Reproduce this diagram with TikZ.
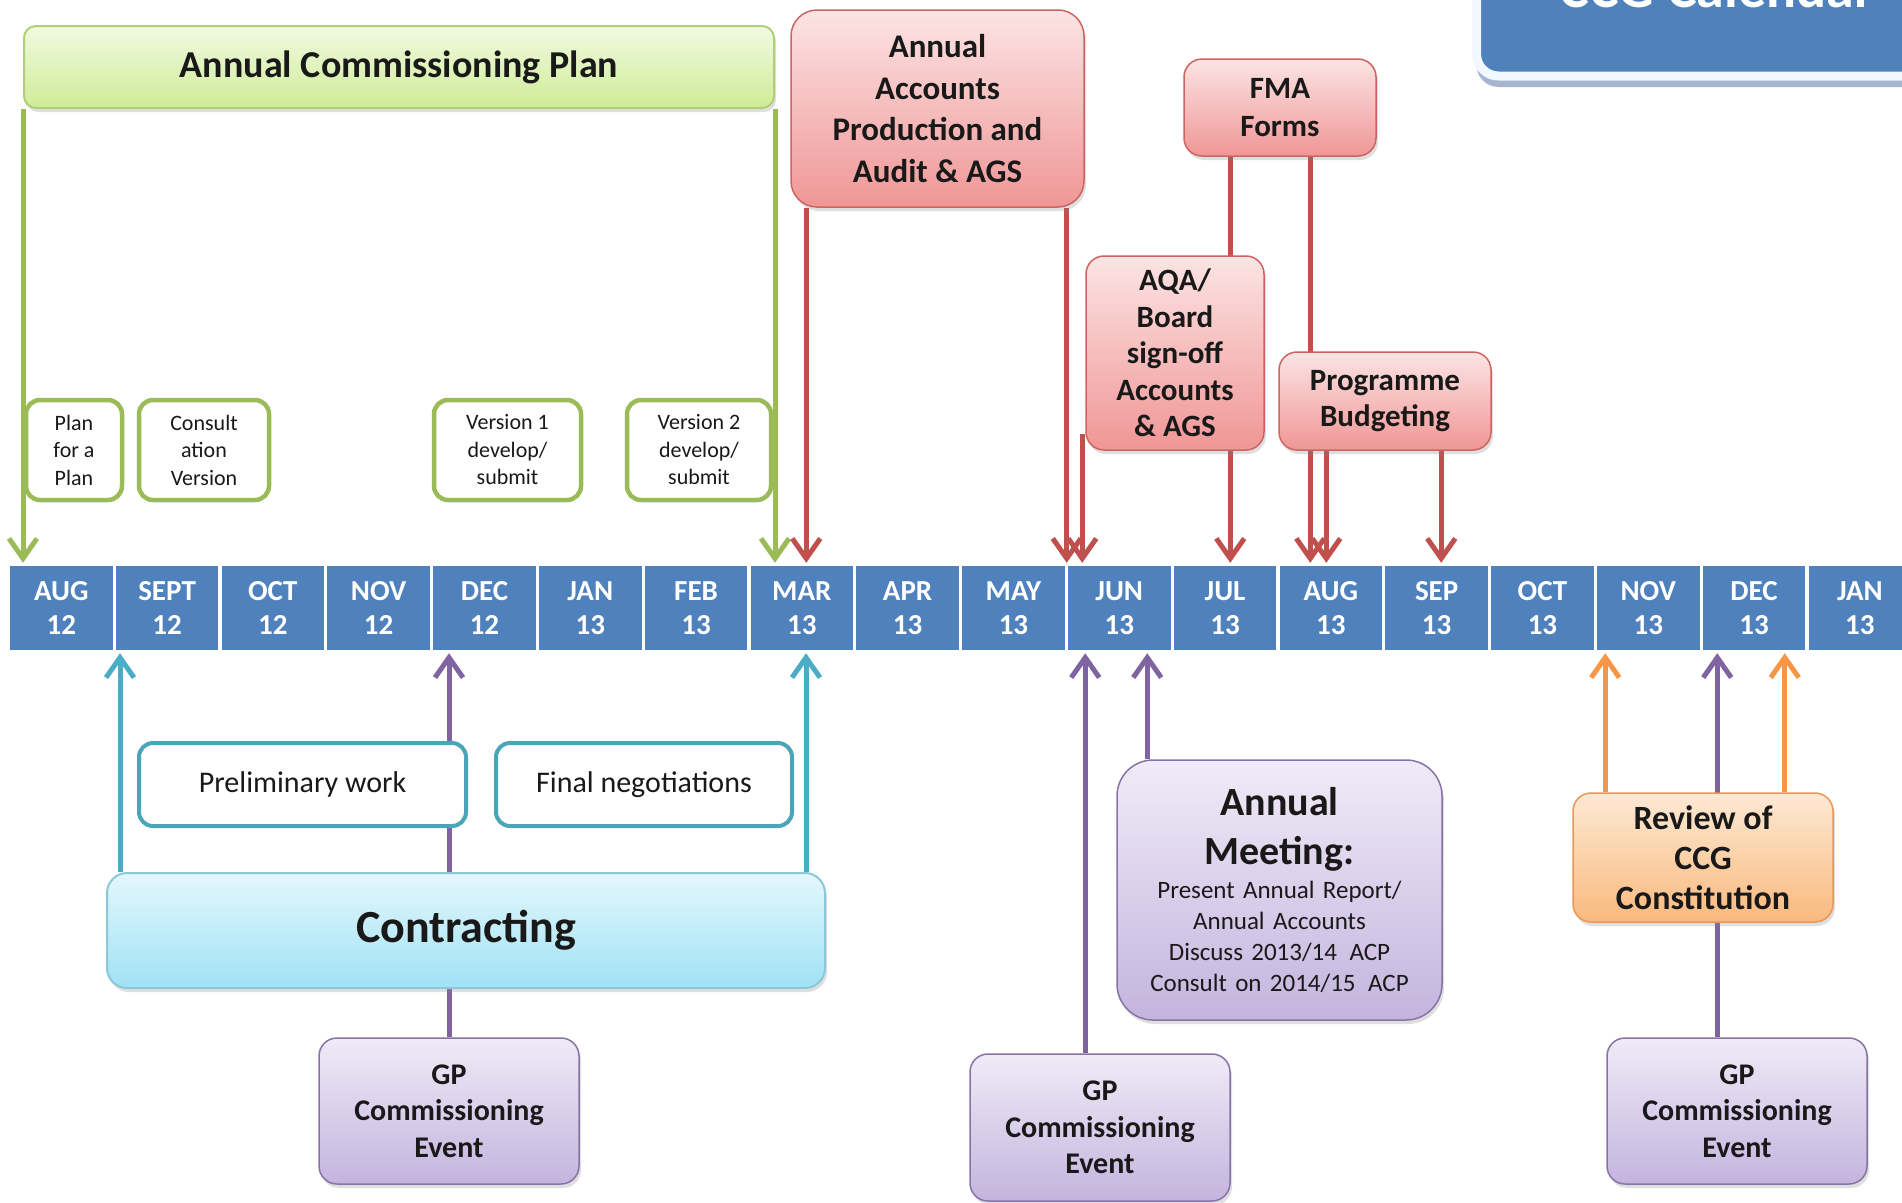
\documentclass[tikz,border=0pt]{standalone}
\usepackage{fontspec}
\setmainfont{Carlito}
\usetikzlibrary{arrows.meta,shadows}
\pgfdeclarelayer{background}
\pgfsetlayers{background,main}

\definecolor{monblue}{RGB}{79,129,189}
\definecolor{grn}{RGB}{155,187,89}
\definecolor{redl}{RGB}{192,80,77}
\definecolor{teall}{RGB}{75,172,198}
\definecolor{purp}{RGB}{128,100,162}
\definecolor{orng}{RGB}{247,150,70}

\begin{document}
\begin{tikzpicture}[x=1pt, y=-1pt,
		box/.style={rectangle, rounded corners=18pt, inner sep=0, align=center, text=black!90},
		shd/.style={drop shadow={opacity=0.25, shadow xshift=2pt, shadow yshift=-4pt}},
		plan/.style={box, rounded corners=12pt, draw={rgb,255:red,175;green,208;blue,120}, line width=2pt, top color={rgb,255:red,242;green,250;blue,226}, bottom color={rgb,255:red,206;green,236;blue,150}, shd, font=\bfseries\fontsize{38}{44}\selectfont},
		ver/.style={box, rounded corners=14pt, draw=grn, line width=4.5pt, fill=white, font=\fontsize{22}{27.5}\selectfont},
		acc/.style={box, draw={rgb,255:red,205;green,100;blue,98}, line width=1.5pt, top color={rgb,255:red,252;green,228;blue,228}, bottom color={rgb,255:red,240;green,150;blue,150}, shd, font=\bfseries\fontsize{31}{36.5}\selectfont},
		wk/.style={box, rounded corners=14pt, draw={rgb,255:red,75;green,165;blue,185}, line width=4pt, fill=white, font=\fontsize{30}{36}\selectfont},
		ctr/.style={box, rounded corners=20pt, draw={rgb,255:red,140;green,200;blue,215}, line width=2pt, top color={rgb,255:red,228;green,247;blue,252}, bottom color={rgb,255:red,160;green,226;blue,245}, shd, font=\bfseries\fontsize{46}{52}\selectfont},
		gp/.style={box, draw={rgb,255:red,135;green,115;blue,165}, line width=1.5pt, top color={rgb,255:red,240;green,235;blue,247}, bottom color={rgb,255:red,196;green,180;blue,222}, shd, font=\bfseries\fontsize{30}{36.5}\selectfont},
		rev/.style={box, draw={rgb,255:red,232;green,150;blue,90}, line width=1.5pt, top color={rgb,255:red,253;green,233;blue,212}, bottom color={rgb,255:red,250;green,185;blue,125}, shd, font=\bfseries\fontsize{34}{40}\selectfont},
		mon/.style={rectangle, fill=monblue, text=white, minimum width=102.5, minimum height=84, inner sep=0, align=center, font=\bfseries\fontsize{29}{34}\selectfont},
		ttl/.style={rectangle, rounded corners=22pt, fill=monblue, draw={rgb,255:red,242;green,248;blue,255}, line width=9pt, drop shadow={fill={rgb,255:red,60;green,90;blue,150}, opacity=0.45, shadow xshift=0pt, shadow yshift=-11pt}},
		arr/.style={line width=5pt, -{Straight Barb[length=20pt, width=28pt]}, shorten >=3pt},
		ga/.style={arr, draw=grn},
		ra/.style={arr, draw=redl},
		ta/.style={arr, draw=teall},
		pa/.style={arr, draw=purp},
		oa/.style={arr, draw=orng}
		]
		
		\useasboundingbox (0,0) rectangle (1902,1202);
		
		%Nodes
		\node[ttl, minimum width=523, minimum height=146]	(ttlbox)	at (1738, 3)	{};
		\node[text=white, anchor=base, font=\bfseries\fontsize{56}{60}\selectfont]	(ttl)	at (1717, 7)	{CCG Calendar};
		
		\node[plan, minimum width=750, minimum height=82]	(acp)	at (399, 67)	{Annual Commissioning Plan};
		\node[ver, minimum width=96, minimum height=100]	(pfp)	at (74, 450)	{Plan\\for a\\Plan};
		\node[ver, minimum width=130, minimum height=100]	(cons)	at (204, 450)	{Consult\\ation\\Version};
		\node[ver, minimum width=147, minimum height=100]	(v1)	at (507.5, 450)	{Version 1\\develop/\\submit};
		\node[ver, minimum width=144, minimum height=100]	(v2)	at (699, 450)	{Version 2\\develop/\\submit};
		
		\node[acc, rounded corners=26pt, minimum width=293, minimum height=197, font=\bfseries\fontsize{33}{41.4}\selectfont]	(aap)	at (937.5, 108.5)	{Annual\\Accounts\\Production and\\Audit \& AGS};
		\node[acc, minimum width=192, minimum height=97, font=\bfseries\fontsize{31}{38}\selectfont]	(fma)	at (1280, 107.5)	{FMA\\Forms};
		\node[acc, minimum width=178, minimum height=194]	(aqa)	at (1175, 353)	{AQA/\\Board\\sign-off\\Accounts\\\& AGS};
		\node[acc, minimum width=212, minimum height=98, font=\bfseries\fontsize{31}{36}\selectfont]	(pb)	at (1385, 401)	{Programme\\Budgeting};
		
		\foreach \m/\yr [count=\i from 0] in {AUG/12, SEPT/12, OCT/12, NOV/12, DEC/12, JAN/13, FEB/13, MAR/13, APR/13, MAY/13, JUN/13, JUL/13, AUG/13, SEP/13, OCT/13, NOV/13, DEC/13, JAN/13}
			\node[mon]	(m\i)	at (61.25+105.8*\i, 608)	{\m\\\yr};
		
		\node[wk, minimum width=327, minimum height=83]	(pre)	at (302.5, 784.5)	{Preliminary work};
		\node[wk, minimum width=296, minimum height=83]	(fin)	at (644, 784.5)	{Final negotiations};
		\node[ctr, minimum width=718, minimum height=115]	(ctr)	at (466, 930.5)	{Contracting};
		\node[gp, minimum width=260, minimum height=146]	(gp1)	at (449, 1111)	{GP\\Commissioning\\Event};
		\node[gp, minimum width=260, minimum height=147]	(gp2)	at (1100, 1127.5)	{GP\\Commissioning\\Event};
		\node[gp, rounded corners=36pt, minimum width=325, minimum height=260, text width=320, font=\fontsize{25}{31}\selectfont]	(am)	at (1279.5, 890)
			{{\bfseries\fontsize{40}{49}\selectfont Annual\\Meeting:\par}\vspace{3pt}Present Annual Report/\\Annual Accounts\\Discuss 2013/14\enspace ACP\\Consult on 2014/15\enspace ACP\par};
		\node[rev, minimum width=260, minimum height=129]	(rev)	at (1703, 857.5)	{Review of\\CCG\\Constitution};
		\node[gp, minimum width=260, minimum height=146]	(gp3)	at (1737, 1111)	{GP\\Commissioning\\Event};
		
		%Arrow feet
		\coordinate (r1) at ([xshift=16pt]aap.south west);
		\coordinate (r2) at ([xshift=-18pt]aap.south east);
		\coordinate (r3) at ([xshift=-3pt, yshift=17pt]aqa.south west);
		\coordinate (r4) at ([xshift=47pt]fma.south west);
		\coordinate (r5) at ([xshift=127pt]fma.south west);
		\coordinate (r6) at ([xshift=48pt]pb.south west);
		\coordinate (r7) at ([xshift=163pt]pb.south west);
		\coordinate (t1) at ([xshift=14pt]ctr.north west);
		\coordinate (t2) at ([xshift=-20pt]ctr.north east);
		\coordinate (p2) at ([xshift=116pt]gp2.north west);
		\coordinate (p3) at ([xshift=31pt]am.north west);
		\coordinate (p4) at ([xshift=111pt]gp3.north west);
		\coordinate (o1) at ([xshift=33pt]rev.north west);
		\coordinate (o2) at ([xshift=-49pt]rev.north east);
		
		%Lines
		\begin{pgfonlayer}{background}
			\draw[ga] (acp.south west) -- (acp.south west |- m0.north);
			\draw[ga] (acp.south east) -- (acp.south east |- m7.north);
			
			\draw[ra] (r1) -- (r1 |- m7.north);
			\draw[ra] (r2) -- (r2 |- m10.north);
			\draw[ra] (r3) -- (r3 |- m10.north);
			\draw[ra] (r4) -- (r4 |- m11.north);
			\draw[ra] (r5) -- (r5 |- m12.north);
			\draw[ra] (r6) -- (r6 |- m12.north);
			\draw[ra] (r7) -- (r7 |- m13.north);
			
			\draw[ta] (t1) -- (t1 |- m1.south);
			\draw[ta] (t2) -- (t2 |- m7.south);
			\draw[pa] (gp1.north) -- (gp1.north |- m4.south);
			\draw[pa] (p2) -- (p2 |- m10.south);
			\draw[pa] (p3) -- (p3 |- m10.south);
			\draw[pa] (p4) -- (p4 |- m16.south);
			\draw[oa] (o1) -- (o1 |- m15.south);
			\draw[oa] (o2) -- (o2 |- m16.south);
		\end{pgfonlayer}
		
	\end{tikzpicture}
\end{document}
